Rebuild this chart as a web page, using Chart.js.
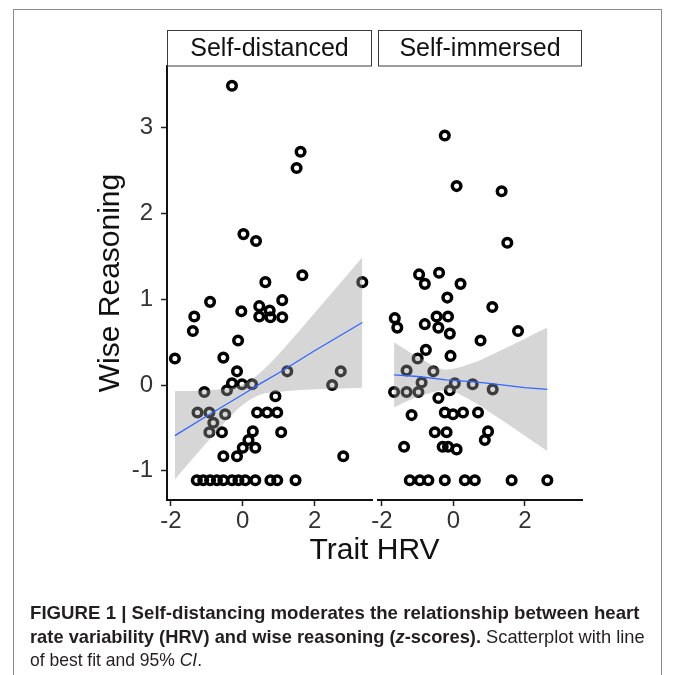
<!DOCTYPE html>
<html>
<head>
<meta charset="utf-8">
<script src="https://cdn.jsdelivr.net/npm/chart.js@4"></script>
<style>
html,body{margin:0;padding:0;background:#fff;}
#wrap{position:relative;width:673px;height:675px;overflow:hidden;font-family:"Liberation Sans",Arial,Helvetica,sans-serif;background:#fff;}
#frame{position:absolute;left:13px;top:9px;width:647px;height:720px;border:1px solid #8c8c8c;}
canvas{position:absolute;left:0;top:0;}
.cap{position:absolute;left:30px;white-space:nowrap;font-size:18.5px;line-height:24px;color:#231f20;transform-origin:0 0;}
</style>
</head>
<body>
<div id="wrap">
  <div id="frame"></div>
  <canvas id="left" width="673" height="675"></canvas>
  <canvas id="right" width="673" height="675"></canvas>
  <div class="cap" id="c1" style="top:601px"><b>FIGURE 1 | Self-distancing moderates the relationship between heart</b></div>
  <div class="cap" id="c2" style="top:625px"><b>rate variability (HRV) and wise reasoning (<i>z</i>-scores).</b> Scatterplot with line</div>
  <div class="cap" id="c3" style="top:648px">of best fit and 95% <i>CI</i>.</div>
</div>
<script>
// ---------------- data ----------------
const PANELS = ['Self-distanced', 'Self-immersed'];
const X_TICKS = [-2, 0, 2];
const Y_TICKS = [-1, 0, 1, 2, 3];
const X_TITLE = 'Trait HRV';
const Y_TITLE = 'Wise Reasoning';

// Self-distanced panel
const distX = [-0.30, 1.61, 1.50, 0.02, 0.37, 1.66, 3.33, 0.63, -0.91, 1.10, 0.46, 0.75, -0.04, 0.46, 0.77, 1.10,
  -1.35, -1.39, -0.13, -1.89, -0.54, -0.16, 1.24, 2.73, 2.49, -0.30, -0.02, 0.26, -0.44, -1.07, 0.91,
  -1.26, -0.93, -0.49, 0.40, 0.68, 0.96, -0.82, -0.93, -0.58, 0.28, 1.07, 0.16, 0.00, 0.35, -0.54, -0.16, 2.80,
  -1.28, -1.10, -0.91, -0.72, -0.54, -0.30, -0.12, 0.07, 0.35, 0.77, 0.96, 1.47];
const distY = [3.49, 2.72, 2.53, 1.76, 1.68, 1.28, 1.20, 1.20, 0.97, 0.99, 0.92, 0.87, 0.86, 0.80, 0.79, 0.79,
  0.80, 0.63, 0.52, 0.31, 0.32, 0.16, 0.16, 0.16, 0.00, 0.02, 0.01, 0.01, -0.06, -0.08, -0.13,
  -0.32, -0.32, -0.34, -0.32, -0.32, -0.32, -0.44, -0.55, -0.55, -0.54, -0.55, -0.64, -0.73, -0.73, -0.83, -0.83, -0.83,
  -1.11, -1.11, -1.11, -1.11, -1.11, -1.11, -1.11, -1.11, -1.11, -1.11, -1.11, -1.11];
const distFitX  = [-1.89, -1.00, 0.00, 0.50, 1.00, 2.00, 3.33];
const distFitY  = [-0.59, -0.36, -0.11, 0.02, 0.14, 0.40, 0.73];
const distFitHi = [-0.07, -0.06, 0.01, 0.15, 0.36, 0.84, 1.49];
const distFitLo = [-1.10, -0.67, -0.23, -0.11, -0.08, -0.05, -0.03];

// Self-immersed panel
const immX = [-0.24, 0.09, 1.35, 1.51, -0.96, -0.40, -0.80, 0.20, -0.17, 1.09, -1.64, -1.57, -0.47, -0.15, -0.80,
  -0.42, -0.10, 1.81, 0.76, -0.77, -1.00, -0.08, -1.31, -0.56, -0.89, 0.04, 0.54, 1.10, -1.66, -1.31, -0.98,
  -0.10, -0.42, -1.17, -0.24, -0.01, 0.27, 0.69, -0.52, -0.19, 0.97, 0.88, -1.38, -0.30, -0.15, 0.09,
  -1.22, -0.94, -0.70, -0.24, 0.32, 0.60, 1.63, 2.63];
const immY = [2.91, 2.32, 2.26, 1.66, 1.29, 1.31, 1.18, 1.18, 1.02, 0.91, 0.78, 0.67, 0.80, 0.80, 0.71,
  0.67, 0.60, 0.63, 0.52, 0.41, 0.31, 0.34, 0.17, 0.16, 0.03, 0.02, 0.01, -0.05, -0.08, -0.08, -0.08,
  -0.06, -0.15, -0.35, -0.32, -0.34, -0.32, -0.32, -0.55, -0.55, -0.54, -0.64, -0.72, -0.72, -0.72, -0.75,
  -1.11, -1.11, -1.11, -1.11, -1.11, -1.11, -1.11, -1.11];
const immFitX  = [-1.66, -1.00, -0.20, 0.50, 1.00, 2.00, 2.63];
const immFitY  = [0.12, 0.10, 0.06, 0.04, 0.02, -0.03, -0.05];
const immFitHi = [0.50, 0.33, 0.18, 0.25, 0.34, 0.54, 0.67];
const immFitLo = [-0.26, -0.14, -0.06, -0.18, -0.31, -0.59, -0.77];

// ---------------- layout / style ----------------
const FAMILY = '"Liberation Sans", Arial, Helvetica, sans-serif';
const W = 673, H = 675;
const PANEL_TOP = 66, PANEL_BOTTOM = 500, STRIP_TOP = 30;
const LEFT_AREA = [167, 372], RIGHT_AREA = [378, 582];
const X_MIN = -2.11, X_MAX = 3.6, Y_MIN = -1.34, Y_MAX = 3.72;

const pts = (xs, ys) => xs.map((x, i) => ({x: x, y: ys[i]}));

const stripPlugin = {
  id: 'strips',
  afterDraw(chart, args, opts) {
    const ctx = chart.ctx, a = chart.chartArea;
    ctx.save();
    ctx.fillStyle = '#fff';
    ctx.fillRect(a.left, STRIP_TOP, a.right - a.left, a.top - STRIP_TOP);
    ctx.strokeStyle = '#3a3a3a';
    ctx.lineWidth = 1;
    ctx.strokeRect(a.left + 0.5, STRIP_TOP + 0.5, a.right - a.left - 1, a.top - STRIP_TOP - 0.5);
    ctx.fillStyle = '#111';
    ctx.font = '25px ' + FAMILY;
    ctx.textAlign = 'center';
    ctx.textBaseline = 'middle';
    ctx.fillText(opts.text, (a.left + a.right) / 2, (STRIP_TOP + a.top) / 2 + 1);
    if (opts.xTitle) {
      ctx.font = '30px ' + FAMILY;
      ctx.textBaseline = 'middle';
      ctx.fillText(opts.xTitle, (LEFT_AREA[0] + a.right) / 2, 551);
    }
    ctx.restore();
  }
};

function datasets(xs, ys, fx, fy, fhi, flo) {
  return [
    {type: 'line', data: pts(fx, fy), borderColor: '#3366FF', borderWidth: 1.3, pointRadius: 0, fill: false, order: 0},
    {type: 'line', data: pts(fx, fhi), borderWidth: 0, borderColor: 'rgba(0,0,0,0)', pointRadius: 0,
      backgroundColor: 'rgba(153,153,153,0.4)', fill: '+1', cubicInterpolationMode: 'monotone', order: 1},
    {type: 'line', data: pts(fx, flo), borderWidth: 0, borderColor: 'rgba(0,0,0,0)', pointRadius: 0,
      fill: false, cubicInterpolationMode: 'monotone', order: 1},
    {type: 'scatter', data: pts(xs, ys), pointRadius: 4.3, pointBorderWidth: 3.5, borderColor: '#000',
      pointBorderColor: '#000', pointBackgroundColor: 'rgba(0,0,0,0)', backgroundColor: 'rgba(0,0,0,0)', order: 2}
  ];
}

function options(isLeft, stripText) {
  const area = isLeft ? LEFT_AREA : RIGHT_AREA;
  return {
    responsive: false,
    animation: false,
    events: [],
    layout: {padding: {left: isLeft ? 0 : area[0], right: W - area[1], top: PANEL_TOP, bottom: 0}},
    plugins: {
      legend: {display: false},
      tooltip: {enabled: false},
      strips: {text: stripText, xTitle: isLeft ? null : X_TITLE}
    },
    scales: {
      x: {
        type: 'linear', min: X_MIN, max: X_MAX,
        afterFit: s => { s.height = H - PANEL_BOTTOM; },
        afterBuildTicks: s => { s.ticks = X_TICKS.map(v => ({value: v})); },
        ticks: {autoSkip: false, maxRotation: 0, font: {family: FAMILY, size: 24}, color: '#333', padding: 1},
        grid: {drawOnChartArea: false, drawTicks: true, tickLength: 6, tickColor: '#222', tickWidth: 1.5},
        border: {display: true, color: '#111', width: 2}
      },
      y: {
        type: 'linear', min: Y_MIN, max: Y_MAX, display: isLeft,
        afterFit: s => { if (isLeft) s.width = LEFT_AREA[0]; },
        afterBuildTicks: s => { s.ticks = Y_TICKS.map(v => ({value: v})); },
        ticks: {font: {family: FAMILY, size: 24}, color: '#333', padding: 8},
        grid: {drawOnChartArea: false, drawTicks: true, tickLength: 6, tickColor: '#222', tickWidth: 1.5},
        border: {display: true, color: '#111', width: 2},
        title: {display: true, text: Y_TITLE, font: {family: FAMILY, size: 30}, color: '#111', padding: {top: 93}}
      }
    }
  };
}

const leftChart = new Chart(document.getElementById('left'), {
  type: 'scatter',
  data: {datasets: datasets(distX, distY, distFitX, distFitY, distFitHi, distFitLo)},
  options: options(true, PANELS[0]),
  plugins: [stripPlugin]
});
const rightChart = new Chart(document.getElementById('right'), {
  type: 'scatter',
  data: {datasets: datasets(immX, immY, immFitX, immFitY, immFitHi, immFitLo)},
  options: options(false, PANELS[1]),
  plugins: [stripPlugin]
});

// fit each caption line to the width it has in the reference
(function fitCaption() {
  const targets = {c1: 610, c2: 615, c3: 172};
  Object.keys(targets).forEach(id => {
    const el = document.getElementById(id);
    const s = targets[id] / el.scrollWidth;
    el.style.transform = 'scaleX(' + s.toFixed(4) + ')';
  });
})();
</script>
</body>
</html>
